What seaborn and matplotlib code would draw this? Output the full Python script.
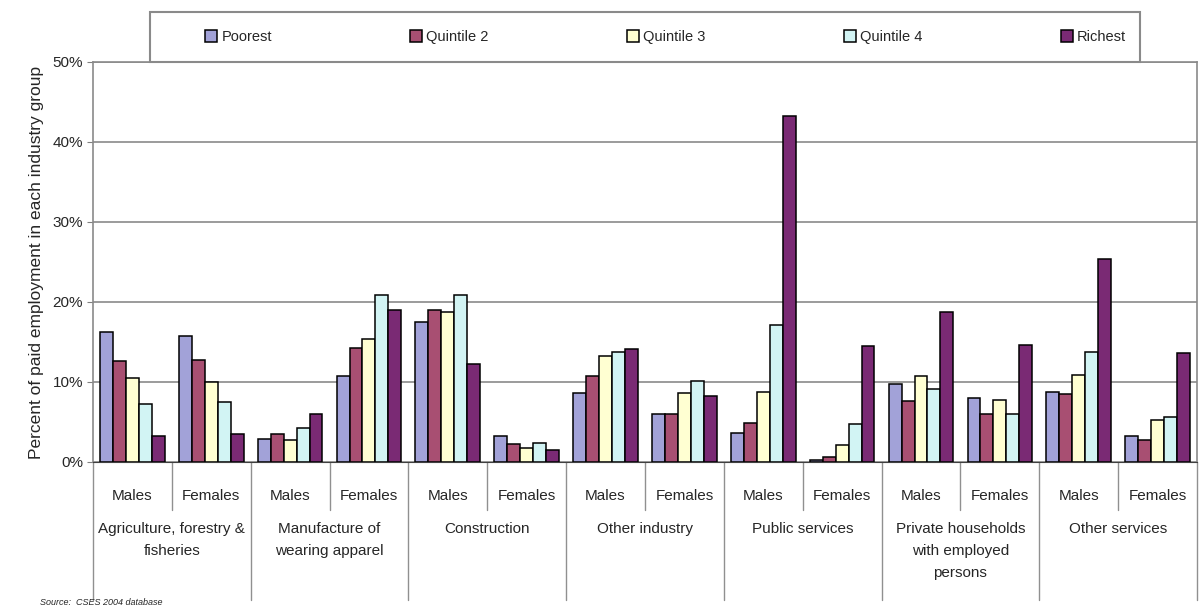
import pandas as pd
import matplotlib.pyplot as plt
import seaborn as sns
from matplotlib.patches import Rectangle

# industry groups and sexes
groups = ['Agriculture, forestry &\nfisheries', 'Manufacture of\nwearing apparel', 'Construction',
          'Other industry', 'Public services', 'Private households\nwith employed\npersons', 'Other services']
sexes = ['Males', 'Females']
quintiles = ['Poorest', 'Quintile 2', 'Quintile 3', 'Quintile 4', 'Richest']

# percent of paid employment, one list per quintile (14 values: Males, Females per group)
poorest = [16.2, 15.8, 2.9, 10.8, 17.5, 3.3, 8.6, 6.0, 3.6, 0.2, 9.8, 8.0, 8.8, 3.2]
quintile2 = [12.6, 12.8, 3.5, 14.2, 19.0, 2.2, 10.8, 6.0, 4.9, 0.6, 7.6, 6.0, 8.5, 2.8]
quintile3 = [10.5, 10.0, 2.8, 15.4, 18.8, 1.8, 13.3, 8.6, 8.8, 2.1, 10.7, 7.8, 10.9, 5.3]
quintile4 = [7.3, 7.5, 4.3, 20.9, 20.9, 2.4, 13.8, 10.1, 17.1, 4.8, 9.1, 6.0, 13.7, 5.6]
richest = [3.3, 3.5, 6.0, 19.0, 12.3, 1.5, 14.1, 8.2, 43.2, 14.5, 18.8, 14.6, 25.4, 13.6]

colors = ['#a2a2d8', '#a84f72', '#ffffd2', '#d2f4f4', '#7a2a74']

cats = [f'{g}|{s}' for g in groups for s in sexes]
rows = []
for q, vals in zip(quintiles, [poorest, quintile2, quintile3, quintile4, richest]):
    for c, v in zip(cats, vals):
        rows.append({'cat': c, 'quintile': q, 'value': v})
df = pd.DataFrame(rows)

sns.set_style('white')
plt.rcParams['font.family'] = ['Liberation Sans', 'DejaVu Sans']

fig = plt.figure(figsize=(12.04, 6.12), dpi=100)
ax = fig.add_axes([0.0772, 0.2451, 0.917, 0.6536])

sns.barplot(data=df, x='cat', y='value', hue='quintile', order=cats, hue_order=quintiles,
            palette=colors, saturation=1, width=0.82, edgecolor='black', linewidth=1.1,
            ax=ax, legend=True)

ax.set_ylim(0, 50)
ax.set_xlim(-0.5, len(cats) - 0.5)
ax.set_yticks([0, 10, 20, 30, 40, 50])
ax.set_yticklabels([f'{t}%' for t in [0, 10, 20, 30, 40, 50]], fontsize=11)
ax.yaxis.grid(True, color='#8a8a8a', linewidth=1.2)
ax.set_axisbelow(True)
ax.tick_params(axis='y', left=True, length=4, color='#808080', pad=3)
ax.tick_params(axis='x', bottom=False, pad=16)
for side in ['left', 'top', 'right']:
    ax.spines[side].set_color('#8a8a8a')
    ax.spines[side].set_linewidth(1.2)
ax.spines['bottom'].set_color('#404040')

ax.set_xticks(range(len(cats)))
ax.set_xticklabels([c.split('|')[1] for c in cats], fontsize=11)
ax.set_xlabel('')
ax.set_ylabel('Percent of paid employment in each industry group', fontsize=12.5, labelpad=6)

# separators of the two-level category axis
trans = ax.get_xaxis_transform()
for i in range(len(cats) + 1):
    x = i - 0.5
    y_end = -0.345 if i % 2 == 0 else -0.12
    ax.plot([x, x], [0, y_end], color='#909090', linewidth=1, transform=trans, clip_on=False)
for j, g in enumerate(groups):
    ax.text(2 * j + 0.5, -0.15, g, transform=trans, ha='center', va='top', fontsize=11,
            linespacing=1.75)

ax.legend_.remove()
handles, labels = ax.get_legend_handles_labels()
fig.add_artist(Rectangle((0.1246, 0.8987), 0.822, 0.0817, transform=fig.transFigure,
                         fill=False, edgecolor='#8a8a8a', linewidth=1.5))
fig.legend(handles[:5], labels[:5], loc='center', ncol=5,
           bbox_to_anchor=(0.553, 0.8987 + 0.0817 / 2), fontsize=10.5, frameon=False,
           handlelength=0.8, handleheight=0.8, handletextpad=0.3, columnspacing=9.5)

fig.text(0.033, 0.012, 'Source:  CSES 2004 database', fontsize=6.5, style='italic')

fig.savefig('out.png', dpi=100)
